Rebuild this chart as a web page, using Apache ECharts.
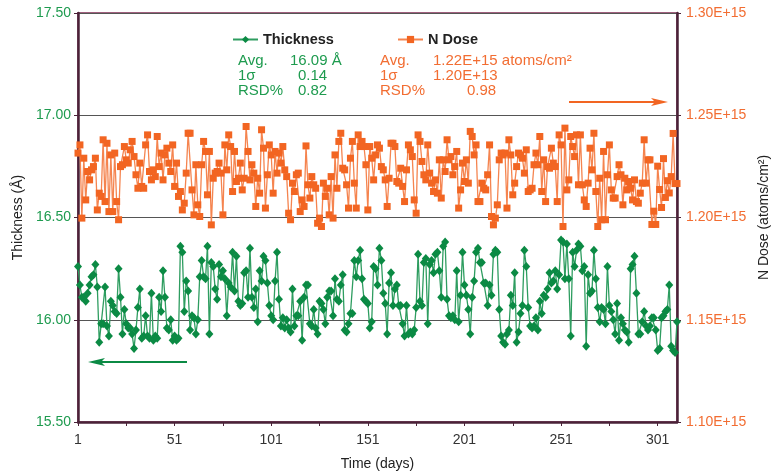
<!DOCTYPE html>
<html>
<head>
<meta charset="utf-8">
<script src="https://cdn.jsdelivr.net/npm/echarts@6/dist/echarts.min.js"></script>
<style>
html,body{margin:0;padding:0;background:#fff;}
#chart{width:772px;height:476px;}
</style>
</head>
<body>
<div id="chart"></div>
<script>
// ---- data ----
const xTickLabels = ['1', '51', '101', '151', '201', '251', '301'];
const dayCount = 311;
const days = Array.from({length: dayCount}, (_, i) => String(i + 1));

// Thickness (Å), days 1..311
const thickness = [
  16.26,16.17,16.11,16.11,16.09,16.13,16.17,16.21,16.22,16.27,
  16.16,15.89,15.98,15.98,16.16,15.97,15.92,16.09,16.07,16.04,
  16.03,16.25,16.11,15.93,16.05,15.98,15.96,15.96,15.93,15.86,
  15.95,16.06,16.15,15.91,15.92,16.02,15.92,15.91,16.13,15.90,
  15.92,15.91,16.11,16.04,16.24,16.11,15.96,15.95,16.00,15.90,
  15.92,15.90,
  15.91,16.36,16.33,16.04,16.19,16.14,15.95,16.02,16.01,15.93,
  16.00,16.21,16.29,16.21,16.20,16.36,15.93,16.28,16.26,16.15,
  16.10,16.27,16.21,16.24,16.20,16.02,16.18,16.16,16.33,16.14,
  16.31,16.09,16.07,16.08,16.23,16.24,16.11,16.35,16.11,16.06,
  16.15,15.99,16.24,16.19,16.31,16.29,16.18,16.07,16.02,16.00,
  16.19,16.33,
  16.10,15.97,16.01,15.96,16.00,15.96,15.94,16.15,15.97,16.02,
  16.02,16.09,15.90,16.11,16.17,16.17,15.98,15.97,16.05,15.96,
  15.93,16.09,16.08,16.05,15.98,16.11,16.14,16.14,16.02,16.20,
  16.10,16.09,16.17,16.22,15.95,15.94,15.98,16.03,16.03,16.29,
  16.21,16.29,16.34,16.20,16.10,16.09,16.08,15.96,15.99,16.26,
  16.25,16.17,
  16.35,16.29,16.13,16.08,15.93,16.18,16.23,16.07,16.15,16.17,
  16.07,16.07,15.98,15.92,16.07,15.93,15.94,15.93,15.95,16.06,
  16.32,16.09,16.07,16.28,16.30,15.98,16.27,16.29,16.23,16.32,
  16.33,16.24,16.11,16.36,16.38,16.10,16.02,16.01,16.02,16.00,
  16.24,15.99,16.12,16.33,16.17,16.12,16.05,15.93,16.11,16.19,
  16.33,16.35,
  16.28,16.28,16.18,16.18,16.07,16.17,16.12,16.32,16.34,16.33,
  16.05,15.92,15.89,15.88,15.93,15.95,16.12,16.07,16.23,15.89,
  15.94,16.03,16.07,16.34,16.26,16.06,15.97,15.96,15.97,16.01,
  15.95,16.09,16.03,16.12,16.11,16.15,16.23,16.18,16.19,16.24,
  16.15,16.22,16.39,16.38,16.20,16.37,16.20,15.92,16.33,16.26,
  16.34,16.37,
  16.36,16.24,16.26,15.87,16.22,16.13,16.14,16.34,16.20,16.06,
  15.99,16.06,16.05,15.98,16.26,16.07,16.04,16.00,15.93,16.08,
  15.90,16.01,15.98,15.95,15.94,15.89,16.25,16.27,16.31,16.13,
  15.93,15.93,15.99,16.04,15.97,15.95,15.97,16.01,16.01,15.95,
  15.85,15.86,16.01,16.02,16.04,16.05,16.17,15.87,15.85,15.84,
  15.99
];

// N Dose (×1E+15 atoms/cm²), days 1..311
const nDoseE15 = [
  1.2315,1.2355,1.1997,1.2290,1.2086,1.2225,1.2184,1.2233,1.2249,1.2290,
  1.2037,1.2119,1.2103,1.2380,1.2078,1.2363,1.2029,1.2306,1.2029,1.2315,
  1.2078,1.1989,1.2249,1.2258,1.2347,1.2282,1.2266,1.2331,1.2372,1.2298,
  1.2209,1.2143,1.2266,1.2152,1.2143,1.2355,1.2404,1.2225,1.2184,1.2233,
  1.2200,1.2396,1.2249,1.2315,1.2184,1.2306,1.2339,1.2266,1.2225,1.2355,
  1.2152,1.2266,
  1.2103,1.2127,1.2037,1.2070,1.2217,1.2412,1.2412,1.2135,1.2013,1.2258,
  1.2062,1.2005,1.2258,1.2372,1.2323,1.2111,1.2323,1.1964,1.2192,1.2217,
  1.2225,1.2266,1.2217,1.2013,1.2355,1.2233,1.2404,1.2347,1.2127,1.2323,
  1.2176,1.2192,1.2266,1.2135,1.2192,1.2445,1.2323,1.2184,1.2258,1.2217,
  1.2054,1.2192,1.2119,1.2429,1.2339,1.2046,1.2209,1.2355,1.2306,1.2119,
  1.2323,1.2217,
  1.2315,1.2266,1.2347,1.2233,1.2200,1.2021,1.1989,1.2168,1.2127,1.2209,
  1.2217,1.2029,1.2086,1.2054,1.2350,1.2160,1.2095,1.2200,1.2160,1.2143,
  1.1972,1.1997,1.1956,1.2168,1.2103,1.2143,1.2013,1.2200,1.1997,1.2306,
  1.2143,1.2372,1.2412,1.2241,1.2233,1.2160,1.2046,1.2290,1.2372,1.2168,
  1.2046,1.2404,1.2347,1.2372,1.2347,1.2258,1.2037,1.2347,1.2290,1.2184,
  1.2306,1.2355,
  1.2339,1.2249,1.2233,1.2184,1.2054,1.2192,1.2363,1.2363,1.2347,1.2176,
  1.2168,1.2241,1.2152,1.2078,1.2233,1.2355,1.2331,1.2298,1.2086,1.2021,
  1.2404,1.2372,1.2274,1.2209,1.2184,1.2355,1.2217,1.2168,1.2127,1.2184,
  1.2119,1.2282,1.2095,1.2282,1.2225,1.2380,1.2282,1.2298,1.2209,1.2249,
  1.2323,1.2046,1.2135,1.2266,1.2176,1.2282,1.2168,1.2421,1.2396,1.2306,
  1.2355,1.2078,
  1.2078,1.2168,1.2143,1.2135,1.2209,1.2355,1.2005,1.1964,1.1997,1.2062,
  1.2282,1.2315,1.2306,1.2315,1.2046,1.2380,1.2306,1.2111,1.2168,1.2249,
  1.2315,1.2306,1.2290,1.2217,1.2331,1.2127,1.2135,1.2143,1.2258,1.2315,
  1.2258,1.2396,1.2127,1.2282,1.2078,1.2249,1.2241,1.2339,1.2266,1.2249,
  1.2078,1.2404,1.2355,1.1956,1.2437,1.2135,1.2184,1.2396,1.2347,1.2298,
  1.2404,1.2160,
  1.2404,1.2160,1.2086,1.2054,1.2168,1.2339,1.2233,1.2412,1.2127,1.1956,
  1.2192,1.1989,1.2323,1.1989,1.2209,1.2355,1.2135,1.2095,1.2095,1.2200,
  1.2258,1.2209,1.2062,1.2192,1.2135,1.2176,1.2143,1.2086,1.2184,1.2078,
  1.2070,1.2119,1.2168,1.2380,1.2168,1.2282,1.2282,
  1.1966,1.2031,1.1966,1.2251,1.2137,1.2049,1.2288,1.2098,1.2180,1.2120,
  1.2200,1.2411,1.2166,1.2166
];

// ---- chart ----
const FONT = '"Liberation Sans", Arial, Helvetica, sans-serif';
const GREEN = '#0b8a44';
const GREEN_TXT = '#1e9b4f';
const ORANGE = '#f26522';
const ORANGE_TXT = '#f26d32';
const FRAME = '#4a2238';

const chart = echarts.init(document.getElementById('chart'), null, {renderer: 'canvas'});

function statText(x, y, text, color, align) {
  return {
    type: 'text', x: x, y: y, silent: true,
    style: {text: text, fill: color, font: '15px ' + FONT, align: align || 'left', verticalAlign: 'middle'}
  };
}

const legendText = {fontFamily: FONT, fontSize: 14.5, fontWeight: 'bold', color: '#222'};

chart.setOption({
  animation: false,
  backgroundColor: '#ffffff',
  grid: {left: 78, right: 95, top: 13, bottom: 54, outerBoundsMode: 'none', containLabel: false,
         show: true, borderColor: '#a0607e', borderWidth: 2, backgroundColor: 'transparent'},
  legend: [
    {data: ['Thickness'], left: 232, top: 32, padding: 0, itemWidth: 25, itemHeight: 9, textStyle: legendText},
    {data: ['N Dose'], left: 397, top: 32, padding: 0, itemWidth: 25, itemHeight: 9, textStyle: legendText}
  ],
  xAxis: {
    type: 'category', data: days, boundaryGap: false,
    name: 'Time (days)', nameLocation: 'middle', nameGap: 35,
    nameTextStyle: {fontFamily: FONT, fontSize: 14, color: '#222'},
    axisLine: {show: true, lineStyle: {color: FRAME, width: 2.5}},
    axisTick: {show: true, length: 4, lineStyle: {color: FRAME, width: 1},
      interval: function (idx) { return idx % 25 === 0; }},
    axisLabel: {fontFamily: FONT, fontSize: 14, color: '#333', margin: 11,
      interval: function (idx, val) { return xTickLabels.indexOf(val) >= 0; }},
    splitLine: {show: false}
  },
  yAxis: [
    {
      type: 'value', min: 15.5, max: 17.5, interval: 0.5, position: 'left',
      name: 'Thickness (Å)', nameLocation: 'middle', nameGap: 51,
      nameTextStyle: {fontFamily: FONT, fontSize: 14, color: '#222'},
      axisLine: {show: true, lineStyle: {color: FRAME, width: 2.5}},
      axisTick: {show: true, length: 4, lineStyle: {color: FRAME}},
      axisLabel: {fontFamily: FONT, fontSize: 14, color: GREEN_TXT, margin: 7,
        formatter: function (v) { return v.toFixed(2); }},
      splitLine: {show: true, lineStyle: {color: '#555', width: 1.2}}
    },
    {
      type: 'value', min: 1.10, max: 1.30, interval: 0.05, position: 'right',
      name: 'N Dose (atoms/cm²)', nameLocation: 'middle', nameGap: 77,
      nameTextStyle: {fontFamily: FONT, fontSize: 14, color: '#222'},
      axisLine: {show: true, lineStyle: {color: FRAME, width: 2.5}},
      axisTick: {show: true, length: 4, lineStyle: {color: FRAME}},
      axisLabel: {fontFamily: FONT, fontSize: 14, color: ORANGE_TXT, margin: 9,
        formatter: function (v) { return v.toFixed(2) + 'E+15'; }},
      splitLine: {show: false}
    }
  ],
  series: [
    {
      name: 'Thickness', type: 'line', yAxisIndex: 0, data: thickness,
      symbol: 'diamond', symbolSize: [8, 9], showAllSymbol: true,
      lineStyle: {color: '#2e9d60', width: 1.3},
      itemStyle: {color: GREEN}, z: 3
    },
    {
      name: 'N Dose', type: 'line', yAxisIndex: 1, data: nDoseE15,
      symbol: 'rect', symbolSize: 7, showAllSymbol: true,
      lineStyle: {color: '#f5844f', width: 1.3},
      itemStyle: {color: ORANGE}, z: 3
    }
  ],
  graphic: [
    statText(238, 61, 'Avg.', GREEN_TXT),
    statText(290, 61, '16.09 Å', GREEN_TXT),
    statText(238, 76, '1σ', GREEN_TXT),
    statText(298, 76, '0.14', GREEN_TXT),
    statText(238, 91, 'RSD%', GREEN_TXT),
    statText(298, 91, '0.82', GREEN_TXT),
    statText(380, 61, 'Avg.', ORANGE_TXT),
    statText(433, 61, '1.22E+15 atoms/cm²', ORANGE_TXT),
    statText(380, 76, '1σ', ORANGE_TXT),
    statText(433, 76, '1.20E+13', ORANGE_TXT),
    statText(380, 91, 'RSD%', ORANGE_TXT),
    statText(467, 91, '0.98', ORANGE_TXT),
    // arrows pointing to each series' axis
    {type: 'line', silent: true, shape: {x1: 569, y1: 102, x2: 656, y2: 102}, style: {stroke: ORANGE, lineWidth: 2}},
    {type: 'polygon', silent: true, shape: {points: [[668, 102], [651, 98], [655, 102], [651, 106]]}, style: {fill: ORANGE}},
    {type: 'line', silent: true, shape: {x1: 187, y1: 362, x2: 100, y2: 362}, style: {stroke: GREEN, lineWidth: 2}},
    {type: 'polygon', silent: true, shape: {points: [[88, 362], [105, 358], [101, 362], [105, 366]]}, style: {fill: GREEN}}
  ]
});
</script>
</body>
</html>
